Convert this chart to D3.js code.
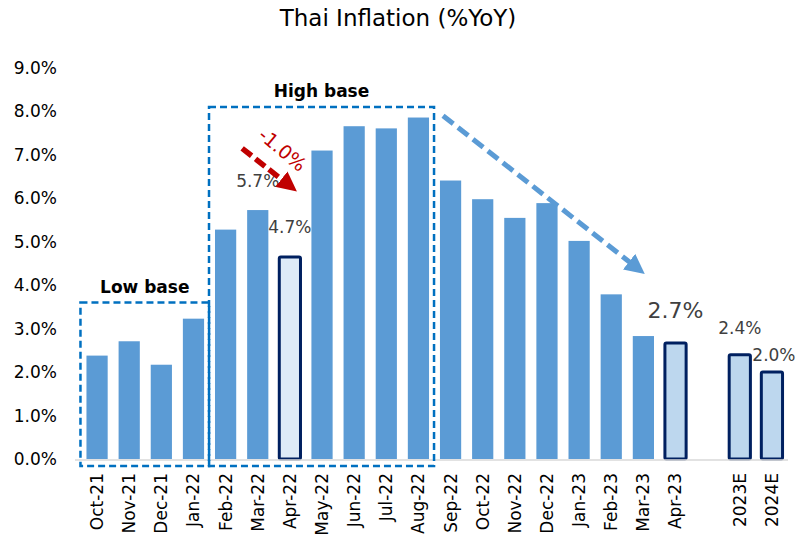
<!DOCTYPE html>
<html>
<head>
<meta charset="utf-8">
<script src="https://cdn.jsdelivr.net/npm/d3@7"></script>
<style>
  body { margin: 0; background: #fff; }
  text { font-family: "DejaVu Sans", sans-serif; }
</style>
</head>
<body>
<svg id="chart" width="797" height="542"></svg>
<script>
// data
var months = ["Oct-21","Nov-21","Dec-21","Jan-22","Feb-22","Mar-22","Apr-22","May-22","Jun-22","Jul-22","Aug-22",
              "Sep-22","Oct-22","Nov-22","Dec-22","Jan-23","Feb-23","Mar-23","Apr-23","","2023E","2024E"];
var cpi = [2.38, 2.71, 2.17, 3.23, 5.28, 5.73, 4.65, 7.10, 7.66, 7.61, 7.86,
           6.41, 5.98, 5.55, 5.89, 5.02, 3.79, 2.83, 2.67, null, 2.4, 2.0];
var highlight = ["Apr-22", "Apr-23", "2023E", "2024E"];
var yTicks = [0, 1, 2, 3, 4, 5, 6, 7, 8, 9];
var callouts = [
  { cat: "Mar-22", text: "5.7%", dy: -23, size: 17 },
  { cat: "Apr-22", text: "4.7%", dy: -24, size: 17 },
  { cat: "Apr-23", text: "2.7%", dy: -25, size: 22 },
  { cat: "2023E", text: "2.4%", dy: -21, size: 17 },
  { cat: "2024E", text: "2.0%", dy: -11, size: 17, dx: 2 }
];

var svg = d3.select("#chart");
var margin = { left: 81, right: 9, top: 68, bottom: 83 };
var W = 797, H = 542;
var FONT = "'DejaVu Sans', sans-serif";

var x = d3.scaleBand().domain(d3.range(months.length)).range([margin.left, W - margin.right]).paddingInner(0.34).paddingOuter(0.17);
var y = d3.scaleLinear().domain([0, 9]).range([H - margin.bottom, margin.top]);

// title
svg.append("text").attr("x", 398).attr("y", 26).attr("text-anchor", "middle")
  .attr("font-size", 23).attr("fill", "#000").text("Thai Inflation (%YoY)");

// y axis labels
var yAxis = d3.axisLeft(y).tickValues(yTicks).tickSize(0).tickPadding(0)
  .tickFormat(function(d) { return d.toFixed(1) + "%"; });
var yg = svg.append("g").attr("transform", "translate(57,0)").call(yAxis);
yg.select(".domain").remove();
yg.selectAll("text").attr("font-size", 17).attr("fill", "#000").attr("font-family", FONT);

// bars
var bars = svg.append("g");
cpi.forEach(function(v, i) {
  if (v == null) return;
  var hl = highlight.indexOf(months[i]) >= 0;
  var r = bars.append("rect")
    .attr("x", x(i)).attr("width", x.bandwidth())
    .attr("y", y(v)).attr("height", y(0) - y(v));
  if (hl) {
    r.attr("fill", months[i] == "Apr-22" ? "#deebf7" : "#bdd7ee")
     .attr("stroke", "#002060").attr("stroke-width", 3).attr("rx", 1.5);
  } else {
    r.attr("fill", "#5b9bd5");
  }
});

// x axis
var xAxis = d3.axisBottom(x).tickSize(0).tickPadding(8).tickFormat(function(i) { return months[i]; });
var xg = svg.append("g").attr("transform", "translate(0," + (y(0) + 1) + ")").call(xAxis);
xg.select(".domain").attr("stroke", "#d9d9d9").attr("stroke-width", 1.5)
  .attr("d", "M" + (margin.left - 6) + ",0H" + (W - margin.right));
xg.selectAll("text").attr("font-size", 17).attr("fill", "#000")
  .attr("font-family", FONT)
  .attr("text-anchor", "end").attr("dy", "0.35em")
  .attr("transform", "rotate(-90)").attr("x", -13).attr("y", 0);

// value callouts
callouts.forEach(function(c) {
  var i = months.indexOf(c.cat);
  svg.append("text").attr("x", x(i) + x.bandwidth() / 2 + (c.dx || 0)).attr("y", y(cpi[i]) + c.dy)
    .attr("text-anchor", "middle").attr("font-size", c.size).attr("fill", "#404040").text(c.text);
});

// dashed boxes
function box(i0, i1, top, label) {
  var x0 = x(i0) - 6, x1 = x(i1) + x.bandwidth() + 5;
  svg.append("rect").attr("x", x0).attr("y", y(top)).attr("width", x1 - x0).attr("height", y(0) + 7 - y(top))
    .attr("fill", "none").attr("stroke", "#0070c0").attr("stroke-width", 2.5).attr("stroke-dasharray", "7,4");
  svg.append("text").attr("x", (x0 + x1) / 2).attr("y", y(top) - 10).attr("text-anchor", "middle")
    .attr("font-size", 17).attr("font-weight", "bold").attr("fill", "#000").text(label);
}
box(0, 3, 3.6, "Low base");
box(4, 10, 8.1, "High base");

// arrows
var defs = svg.append("defs");
defs.append("marker").attr("id", "headBlue").attr("viewBox", "0 0 10 10").attr("refX", 5).attr("refY", 5)
  .attr("markerWidth", 4).attr("markerHeight", 4).attr("orient", "auto")
  .append("path").attr("d", "M0,0L10,5L0,10z").attr("fill", "#5b9bd5");
defs.append("marker").attr("id", "headRed").attr("viewBox", "0 0 10 10").attr("refX", 5).attr("refY", 5)
  .attr("markerWidth", 3.6).attr("markerHeight", 3.6).attr("orient", "auto")
  .append("path").attr("d", "M0,0L10,5L0,10z").attr("fill", "#c00000");

var ia = months.indexOf("Aug-22"), ib = months.indexOf("Apr-23");
svg.append("line")
  .attr("x1", x(ia) + x.bandwidth() + 14).attr("y1", y(7.9))
  .attr("x2", x(ib) - 28).attr("y2", y(4.4))
  .attr("stroke", "#5b9bd5").attr("stroke-width", 5).attr("stroke-dasharray", "13,6")
  .attr("marker-end", "url(#headBlue)");

var im = months.indexOf("Mar-22");
svg.append("line")
  .attr("x1", x(im) - 5).attr("y1", y(7.15))
  .attr("x2", x(im) + 42).attr("y2", y(6.3))
  .attr("stroke", "#c00000").attr("stroke-width", 5.5).attr("stroke-dasharray", "12,5")
  .attr("marker-end", "url(#headRed)");
svg.append("text").attr("transform", "translate(" + (x(im) + 31) + "," + y(7.0) + ") rotate(40)")
  .attr("text-anchor", "middle").attr("font-size", 19).attr("fill", "#c00000").text("-1.0%");
</script>
</body>
</html>
